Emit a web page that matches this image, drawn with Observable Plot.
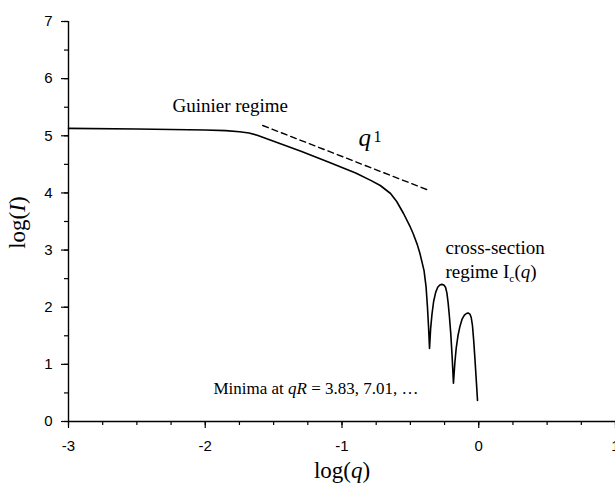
<!DOCTYPE html>
<html><head><meta charset="utf-8">
<script src="https://cdn.jsdelivr.net/npm/d3@7"></script>
<script src="https://cdn.jsdelivr.net/npm/@observablehq/plot@0.6"></script>
<style>html,body{margin:0;padding:0;background:#fff;overflow:hidden;width:615px;height:486px}</style>
</head><body><div id="chart"></div>
<script>
// Scattering curve log(I) vs log(q)
const logQ = [-3.0,-2.5,-2.0,-1.85,-1.75,-1.68,-1.62,-1.55,-1.45,-1.3,-1.1,-0.9,-0.79,-0.72,-0.645,-0.6,-0.55,-0.5,-0.48,-0.45,-0.43,-0.40,-0.385,-0.375,-0.367,-0.36,-0.352,-0.342,-0.33,-0.315,-0.30,-0.285,-0.27,-0.255,-0.243,-0.233,-0.224,-0.215,-0.205,-0.195,-0.185,-0.175,-0.165,-0.152,-0.138,-0.122,-0.105,-0.09,-0.078,-0.065,-0.055,-0.046,-0.037,-0.028,-0.018,-0.009];
const logI = [5.13,5.12,5.10,5.09,5.07,5.05,5.01,4.95,4.86,4.73,4.54,4.35,4.22,4.13,3.99,3.85,3.64,3.40,3.29,3.10,2.94,2.64,2.35,2.0,1.65,1.28,1.62,1.88,2.1,2.26,2.35,2.39,2.40,2.39,2.35,2.25,2.08,1.85,1.55,1.15,0.67,1.02,1.28,1.5,1.66,1.79,1.86,1.89,1.90,1.88,1.82,1.68,1.42,1.1,0.72,0.37];
// q^-1 guide (dashed)
const guideQ = [-1.58, -0.37];
const guideI = [5.18, 4.05];
// ticks
const xTicks = [-3, -2, -1, 0, 1];
const xMinorTicks = [-3,-2.75,-2.5,-2.25,-2,-1.75,-1.5,-1.25,-1,-0.75,-0.5,-0.25,0,0.25,0.5,0.75,1];
const yTicks = [0, 1, 2, 3, 4, 5, 6, 7];
const yMinorTicks = [0,0.5,1,1.5,2,2.5,3,3.5,4,4.5,5,5.5,6,6.5,7];
// annotations
const annotText = ["Guinier regime", "cross-section", "regime Ic(q)", "Minima at qR = 3.83, 7.01, …"];
const annotX = [-2.24, -0.243, -0.243, -1.94];
const annotY = [5.41, 2.94, 2.52, 0.49];
const annotSize = [19, 19, 19, 17];
const slopeText = "q1";
const slopeX = -0.88, slopeY = 4.83;
const xTitle = "log(q)", yTitle = "log(I)";

const richSegs = {
  "regime Ic(q)": [{t:"regime I"},{t:"c",sub:true},{t:"("},{t:"q",it:true},{t:")"}],
  "Minima at qR = 3.83, 7.01, …": [{t:"Minima at "},{t:"qR",it:true},{t:" = 3.83, 7.01, …"}],
  "q1": [{t:"q",it:true},{t:"1",sup:true}],
  "log(q)": [{t:"log("},{t:"q",it:true},{t:")"}],
  "log(I)": [{t:"log("},{t:"I",it:true},{t:")"}]
};

const curve = logQ.map((q, i) => ({q, I: logI[i]}));
const guide = guideQ.map((q, i) => ({q, I: guideI[i]}));
const idx = annotText.map((_, i) => i);
const serif = "'Liberation Serif', 'Times New Roman', serif";
const sans = "'Liberation Sans', Arial, sans-serif";

const chart = Plot.plot({
  width: 615, height: 486,
  marginLeft: 68, marginRight: 0, marginTop: 21, marginBottom: 65,
  x: {domain: [-3, 1]},
  y: {domain: [0, 7]},
  style: {background: "#fff", color: "#000", overflow: "visible"},
  marks: [
    Plot.axisX(xMinorTicks, {tickSize: 4, tickFormat: () => "", label: null, strokeWidth: 1.2}),
    Plot.axisX(xTicks, {tickSize: 7, tickPadding: 12, tickFormat: d => String(d), label: null, fontSize: 15, fontFamily: sans, strokeWidth: 1.2}),
    Plot.axisY(yMinorTicks, {tickSize: 4, tickFormat: () => "", label: null, strokeWidth: 1.2}),
    Plot.axisY(yTicks, {tickSize: 7, tickPadding: 9, tickFormat: d => String(d), label: null, fontSize: 15, fontFamily: sans, strokeWidth: 1.2}),
    Plot.ruleY([0], {x1: -3, x2: 1, stroke: "#000", strokeWidth: 1.4}),
    Plot.ruleX([-3], {y1: 0, y2: 7, stroke: "#000", strokeWidth: 1.4}),
    Plot.line(guide, {x: "q", y: "I", stroke: "#000", strokeWidth: 1.4, strokeDasharray: "6,4"}),
    Plot.line(curve, {x: "q", y: "I", stroke: "#000", strokeWidth: 1.6, curve: "linear"}),
    Plot.text(idx, {x: i => annotX[i], y: i => annotY[i], text: i => annotText[i], fontSize: i => annotSize[i], textAnchor: "start", lineAnchor: "bottom", fontFamily: serif, fill: "#000"}),
    Plot.text([0], {x: () => slopeX, y: () => slopeY, text: () => slopeText, fontSize: 25, textAnchor: "start", lineAnchor: "bottom", fontFamily: serif, fill: "#000"}),
    Plot.text([0], {x: () => -1, y: () => -0.98, text: () => xTitle, fontSize: 23, textAnchor: "middle", lineAnchor: "bottom", fontFamily: serif, fill: "#000"}),
    Plot.text([0], {x: () => -3.375, y: () => 3.48, text: () => yTitle, fontSize: 23, rotate: -90, textAnchor: "middle", lineAnchor: "middle", fontFamily: serif, fill: "#000"})
  ]
});

document.getElementById("chart").appendChild(chart);

d3.select(chart).selectAll("text").each(function() {
  const plain = this.textContent;
  const segs = richSegs[plain];
  if (!segs) return;
  const el = d3.select(this);
  const fs = parseFloat(getComputedStyle(this).fontSize) || 16;
  el.text(null);
  let shift = 0;
  for (const s of segs) {
    const ts = el.append("tspan").text(s.t);
    const target = s.sup ? -0.16 * fs : s.sub ? 0.22 * fs : 0;
    if (target !== shift) { ts.attr("dy", target - shift); shift = target; }
    if (s.it) ts.attr("font-style", "italic");
    if (s.sub) ts.attr("font-size", (0.6 * fs) + "px");
    if (s.sup) ts.attr("font-size", (0.64 * fs) + "px").attr("dx", 0.1 * fs);
  }
});
</script>
</body></html>
